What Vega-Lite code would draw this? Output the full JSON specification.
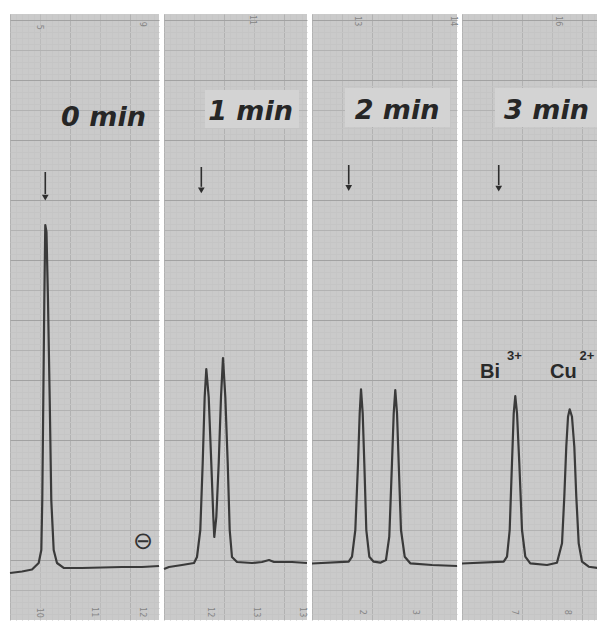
{
  "$schema": "https://vega.github.io/schema/vega-lite/v6.json",
  "padding": {"left": 8, "top": 14, "right": 0, "bottom": 5},
  "background": "white",
  "spacing": 5,
  "bounds": "flush",
  "data": {"values": [
    {"panel":1,"kind":"t","x":0,"y":7.83},{"panel":1,"kind":"t","x":2,"y":8.08},{"panel":1,"kind":"t","x":3.67,"y":8.42},{"panel":1,"kind":"t","x":4.78,"y":9.5},{"panel":1,"kind":"t","x":5.22,"y":11.67},{"panel":1,"kind":"t","x":5.38,"y":20},{"panel":1,"kind":"t","x":5.55,"y":36.67},{"panel":1,"kind":"t","x":5.72,"y":53.33},{"panel":1,"kind":"t","x":5.88,"y":65.83},{"panel":1,"kind":"t","x":6.08,"y":64.67},{"panel":1,"kind":"t","x":6.33,"y":53.33},{"panel":1,"kind":"t","x":6.62,"y":36.67},{"panel":1,"kind":"t","x":6.88,"y":20},{"panel":1,"kind":"t","x":7.28,"y":11.67},{"panel":1,"kind":"t","x":7.83,"y":9.5},{"panel":1,"kind":"t","x":8.95,"y":8.67},{"panel":1,"kind":"t","x":12,"y":8.67},{"panel":1,"kind":"t","x":15.33,"y":8.75},{"panel":1,"kind":"t","x":18.67,"y":8.83},{"panel":1,"kind":"t","x":22,"y":8.83},{"panel":1,"kind":"t","x":24.83,"y":9},
    {"panel":2,"kind":"t","x":0,"y":8.5},{"panel":2,"kind":"t","x":0.83,"y":8.83},{"panel":2,"kind":"t","x":3,"y":9.17},{"panel":2,"kind":"t","x":5,"y":9.5},{"panel":2,"kind":"t","x":5.5,"y":10.5},{"panel":2,"kind":"t","x":6.05,"y":15},{"panel":2,"kind":"t","x":6.45,"y":26.17},{"panel":2,"kind":"t","x":6.78,"y":37.17},{"panel":2,"kind":"t","x":7.05,"y":41.83},{"panel":2,"kind":"t","x":7.45,"y":37.17},{"panel":2,"kind":"t","x":7.88,"y":26.17},{"panel":2,"kind":"t","x":8.22,"y":17.17},{"panel":2,"kind":"t","x":8.38,"y":13.83},{"panel":2,"kind":"t","x":8.72,"y":17.17},{"panel":2,"kind":"t","x":9.12,"y":26.17},{"panel":2,"kind":"t","x":9.5,"y":37.17},{"panel":2,"kind":"t","x":9.83,"y":43.67},{"panel":2,"kind":"t","x":10.22,"y":37.17},{"panel":2,"kind":"t","x":10.62,"y":26.17},{"panel":2,"kind":"t","x":10.95,"y":15},{"panel":2,"kind":"t","x":11.33,"y":10.5},{"panel":2,"kind":"t","x":12.17,"y":9.67},{"panel":2,"kind":"t","x":14.67,"y":9.5},{"panel":2,"kind":"t","x":16.33,"y":9.67},{"panel":2,"kind":"t","x":17.5,"y":10},{"panel":2,"kind":"t","x":18.33,"y":9.67},{"panel":2,"kind":"t","x":21.33,"y":9.67},{"panel":2,"kind":"t","x":23.83,"y":9.5},
    {"panel":3,"kind":"t","x":0,"y":9.42},{"panel":3,"kind":"t","x":6.12,"y":9.72},{"panel":3,"kind":"t","x":6.67,"y":10.55},{"panel":3,"kind":"t","x":7.22,"y":15},{"panel":3,"kind":"t","x":7.67,"y":26.12},{"panel":3,"kind":"t","x":7.95,"y":34.45},{"panel":3,"kind":"t","x":8.17,"y":38.45},{"panel":3,"kind":"t","x":8.45,"y":34.45},{"panel":3,"kind":"t","x":8.72,"y":26.12},{"panel":3,"kind":"t","x":9.05,"y":15},{"panel":3,"kind":"t","x":9.55,"y":10.55},{"panel":3,"kind":"t","x":10.28,"y":9.72},{"panel":3,"kind":"t","x":11.38,"y":9.55},{"panel":3,"kind":"t","x":12.33,"y":10},{"panel":3,"kind":"t","x":12.88,"y":13.88},{"panel":3,"kind":"t","x":13.33,"y":26.12},{"panel":3,"kind":"t","x":13.62,"y":34.45},{"panel":3,"kind":"t","x":13.88,"y":38.33},{"panel":3,"kind":"t","x":14.17,"y":34.45},{"panel":3,"kind":"t","x":14.45,"y":26.12},{"panel":3,"kind":"t","x":14.83,"y":15},{"panel":3,"kind":"t","x":15.45,"y":10.55},{"panel":3,"kind":"t","x":16.38,"y":9.45},{"panel":3,"kind":"t","x":20,"y":9.17},{"panel":3,"kind":"t","x":24.17,"y":9},
    {"panel":4,"kind":"t","x":0,"y":9.42},{"panel":4,"kind":"t","x":6.95,"y":9.72},{"panel":4,"kind":"t","x":7.5,"y":10.55},{"panel":4,"kind":"t","x":7.95,"y":15},{"panel":4,"kind":"t","x":8.33,"y":26.12},{"panel":4,"kind":"t","x":8.62,"y":34.45},{"panel":4,"kind":"t","x":8.88,"y":37.33},{"panel":4,"kind":"t","x":9.17,"y":34.45},{"panel":4,"kind":"t","x":9.55,"y":26.12},{"panel":4,"kind":"t","x":10,"y":15},{"panel":4,"kind":"t","x":10.55,"y":10.55},{"panel":4,"kind":"t","x":11.38,"y":9.45},{"panel":4,"kind":"t","x":14.17,"y":9.17},{"panel":4,"kind":"t","x":15.83,"y":9.55},{"panel":4,"kind":"t","x":16.67,"y":12.78},{"panel":4,"kind":"t","x":17.05,"y":20.55},{"panel":4,"kind":"t","x":17.38,"y":28.88},{"panel":4,"kind":"t","x":17.67,"y":33.88},{"panel":4,"kind":"t","x":17.95,"y":35.12},{"panel":4,"kind":"t","x":18.33,"y":33.88},{"panel":4,"kind":"t","x":18.72,"y":28.88},{"panel":4,"kind":"t","x":19.05,"y":20.55},{"panel":4,"kind":"t","x":19.45,"y":12.78},{"panel":4,"kind":"t","x":20,"y":9.72},{"panel":4,"kind":"t","x":21.12,"y":8.88},{"panel":4,"kind":"t","x":22.83,"y":8.62},
    {"panel":2,"kind":"box","x":6.83,"x2":22.5,"y":82,"y2":88.33},
    {"panel":3,"kind":"box","x":5.5,"x2":23,"y":82.17,"y2":88.67},
    {"panel":4,"kind":"box","x":5.5,"x2":22.83,"y":82.17,"y2":88.67},
    {"panel":1,"kind":"title","x":15.58,"y":82.33,"label":"0 min"},
    {"panel":2,"kind":"title","x":14.42,"y":83.33,"label":"1 min"},
    {"panel":3,"kind":"title","x":14.17,"y":83.45,"label":"2 min"},
    {"panel":4,"kind":"title","x":14.08,"y":83.45,"label":"3 min"},
    {"panel":1,"kind":"arrow","x":5.88,"y":74.67,"y2":71},
    {"panel":2,"kind":"arrow","x":6.22,"y":75.5,"y2":72.2},
    {"panel":3,"kind":"arrow","x":6.12,"y":75.83,"y2":72.6},
    {"panel":4,"kind":"arrow","x":6.12,"y":75.83,"y2":72.5},
    {"panel":1,"kind":"head","x":5.88,"y":70.4},
    {"panel":2,"kind":"head","x":6.22,"y":71.6},
    {"panel":3,"kind":"head","x":6.12,"y":72.0},
    {"panel":4,"kind":"head","x":6.12,"y":71.9},
    {"panel":4,"kind":"ion","x":3,"y":40.33,"label":"Bi"},
    {"panel":4,"kind":"ion","x":14.67,"y":40.33,"label":"Cu"},
    {"panel":4,"kind":"sup","x":7.5,"y":43.3,"label":"3+"},
    {"panel":4,"kind":"sup","x":19.6,"y":43.3,"label":"2+"},
    {"panel":1,"kind":"sym","x":22.17,"y":12.92,"label":"⊖"},
    {"panel":1,"kind":"num","x":4.83,"y":98.8,"label":"5"},
    {"panel":1,"kind":"num","x":22,"y":99.3,"label":"9"},
    {"panel":2,"kind":"num","x":14.67,"y":100,"label":"11"},
    {"panel":3,"kind":"num","x":7.5,"y":99.8,"label":"13"},
    {"panel":3,"kind":"num","x":23.5,"y":99.8,"label":"14"},
    {"panel":4,"kind":"num","x":16,"y":99.8,"label":"16"},
    {"panel":1,"kind":"num","x":4.83,"y":1.2,"label":"10"},
    {"panel":1,"kind":"num","x":14,"y":1.3,"label":"11"},
    {"panel":1,"kind":"num","x":22,"y":1.3,"label":"12"},
    {"panel":2,"kind":"num","x":7.67,"y":1.3,"label":"12"},
    {"panel":2,"kind":"num","x":15.33,"y":1.3,"label":"13"},
    {"panel":2,"kind":"num","x":23,"y":1.3,"label":"13"},
    {"panel":3,"kind":"num","x":8.33,"y":1.3,"label":"2"},
    {"panel":3,"kind":"num","x":17.17,"y":1.3,"label":"3"},
    {"panel":4,"kind":"num","x":8.67,"y":1.3,"label":"7"},
    {"panel":4,"kind":"num","x":17.5,"y":1.3,"label":"8"}
  ]},
  "hconcat": [
    {
      "width": 149, "height": 606,
      "transform": [{"filter": "datum.panel == 1"}],
      "encoding": {
        "x": {"field": "x", "type": "quantitative", "scale": {"domain": [0, 24.833], "nice": false, "zero": false},
          "axis": {"values": [0,1,2,3,4,5,6,7,8,9,10,11,12,13,14,15,16,17,18,19,20,21,22,23,24],
            "gridColor": {"condition": [{"test": "datum.value % 10 === 0", "value": "#b2b2b2"}, {"test": "datum.value % 5 === 0", "value": "#bbbbbb"}], "value": "#c6c6c6"}}},
        "y": {"field": "y", "type": "quantitative", "scale": {"domain": [0, 101], "nice": false, "zero": false},
          "axis": {"values": [1,2,3,4,5,6,7,8,9,10,11,12,13,14,15,16,17,18,19,20,21,22,23,24,25,26,27,28,29,30,31,32,33,34,35,36,37,38,39,40,41,42,43,44,45,46,47,48,49,50,51,52,53,54,55,56,57,58,59,60,61,62,63,64,65,66,67,68,69,70,71,72,73,74,75,76,77,78,79,80,81,82,83,84,85,86,87,88,89,90,91,92,93,94,95,96,97,98,99,100],
            "gridColor": {"condition": [{"test": "datum.value % 10 === 0", "value": "#a2a2a2"}, {"test": "datum.value % 5 === 0", "value": "#b2b2b2"}], "value": "#c5c5c5"}}}
      },
      "layer": [
        {"transform": [{"filter": "datum.kind == 'box'"}], "mark": {"type": "rect", "fill": "#d3d3d3"}, "encoding": {"x2": {"field": "x2"}, "y2": {"field": "y2"}}},
        {"transform": [{"filter": "datum.kind == 't'"}], "mark": {"type": "line", "color": "#3a3a3a", "strokeWidth": 2.2, "strokeJoin": "round"}},
        {"transform": [{"filter": "datum.kind == 'arrow'"}], "mark": {"type": "rule", "color": "#2e2e2e", "strokeWidth": 1.6}, "encoding": {"y2": {"field": "y2"}}},
        {"transform": [{"filter": "datum.kind == 'head'"}], "mark": {"type": "point", "shape": "triangle-down", "size": 45, "filled": true, "color": "#2e2e2e", "opacity": 1}},
        {"transform": [{"filter": "datum.kind == 'title'"}], "mark": {"type": "text", "font": "DejaVu Sans", "fontStyle": "italic", "fontWeight": "bold", "fontSize": 27, "align": "center", "baseline": "alphabetic", "color": "#262626"}, "encoding": {"text": {"field": "label"}}},
        {"transform": [{"filter": "datum.kind == 'sym'"}], "mark": {"type": "text", "font": "DejaVu Sans", "fontSize": 24, "align": "center", "baseline": "middle", "color": "#333333"}, "encoding": {"text": {"field": "label"}}},
        {"transform": [{"filter": "datum.kind == 'num'"}], "mark": {"type": "text", "font": "DejaVu Sans", "fontSize": 8, "angle": 90, "align": "center", "baseline": "middle", "color": "#858585"}, "encoding": {"text": {"field": "label"}}}
      ]
    },
    {
      "width": 143, "height": 606,
      "transform": [{"filter": "datum.panel == 2"}],
      "encoding": {
        "x": {"field": "x", "type": "quantitative", "scale": {"domain": [0, 23.833], "nice": false, "zero": false},
          "axis": {"values": [0,1,2,3,4,5,6,7,8,9,10,11,12,13,14,15,16,17,18,19,20,21,22,23],
            "gridColor": {"condition": [{"test": "datum.value % 10 === 0", "value": "#b2b2b2"}, {"test": "datum.value % 5 === 0", "value": "#bbbbbb"}], "value": "#c6c6c6"}}},
        "y": {"field": "y", "type": "quantitative", "scale": {"domain": [0, 101], "nice": false, "zero": false},
          "axis": {"values": [1,2,3,4,5,6,7,8,9,10,11,12,13,14,15,16,17,18,19,20,21,22,23,24,25,26,27,28,29,30,31,32,33,34,35,36,37,38,39,40,41,42,43,44,45,46,47,48,49,50,51,52,53,54,55,56,57,58,59,60,61,62,63,64,65,66,67,68,69,70,71,72,73,74,75,76,77,78,79,80,81,82,83,84,85,86,87,88,89,90,91,92,93,94,95,96,97,98,99,100],
            "gridColor": {"condition": [{"test": "datum.value % 10 === 0", "value": "#a2a2a2"}, {"test": "datum.value % 5 === 0", "value": "#b2b2b2"}], "value": "#c5c5c5"}}}
      },
      "layer": [
        {"transform": [{"filter": "datum.kind == 'box'"}], "mark": {"type": "rect", "fill": "#d3d3d3"}, "encoding": {"x2": {"field": "x2"}, "y2": {"field": "y2"}}},
        {"transform": [{"filter": "datum.kind == 't'"}], "mark": {"type": "line", "color": "#3a3a3a", "strokeWidth": 2.2, "strokeJoin": "round"}},
        {"transform": [{"filter": "datum.kind == 'arrow'"}], "mark": {"type": "rule", "color": "#2e2e2e", "strokeWidth": 1.6}, "encoding": {"y2": {"field": "y2"}}},
        {"transform": [{"filter": "datum.kind == 'head'"}], "mark": {"type": "point", "shape": "triangle-down", "size": 45, "filled": true, "color": "#2e2e2e", "opacity": 1}},
        {"transform": [{"filter": "datum.kind == 'title'"}], "mark": {"type": "text", "font": "DejaVu Sans", "fontStyle": "italic", "fontWeight": "bold", "fontSize": 27, "align": "center", "baseline": "alphabetic", "color": "#262626"}, "encoding": {"text": {"field": "label"}}},
        {"transform": [{"filter": "datum.kind == 'num'"}], "mark": {"type": "text", "font": "DejaVu Sans", "fontSize": 8, "angle": 90, "align": "center", "baseline": "middle", "color": "#858585"}, "encoding": {"text": {"field": "label"}}}
      ]
    },
    {
      "width": 145, "height": 606,
      "transform": [{"filter": "datum.panel == 3"}],
      "encoding": {
        "x": {"field": "x", "type": "quantitative", "scale": {"domain": [0, 24.167], "nice": false, "zero": false},
          "axis": {"values": [0,1,2,3,4,5,6,7,8,9,10,11,12,13,14,15,16,17,18,19,20,21,22,23,24],
            "gridColor": {"condition": [{"test": "datum.value % 10 === 0", "value": "#b2b2b2"}, {"test": "datum.value % 5 === 0", "value": "#bbbbbb"}], "value": "#c6c6c6"}}},
        "y": {"field": "y", "type": "quantitative", "scale": {"domain": [0, 101], "nice": false, "zero": false},
          "axis": {"values": [1,2,3,4,5,6,7,8,9,10,11,12,13,14,15,16,17,18,19,20,21,22,23,24,25,26,27,28,29,30,31,32,33,34,35,36,37,38,39,40,41,42,43,44,45,46,47,48,49,50,51,52,53,54,55,56,57,58,59,60,61,62,63,64,65,66,67,68,69,70,71,72,73,74,75,76,77,78,79,80,81,82,83,84,85,86,87,88,89,90,91,92,93,94,95,96,97,98,99,100],
            "gridColor": {"condition": [{"test": "datum.value % 10 === 0", "value": "#a2a2a2"}, {"test": "datum.value % 5 === 0", "value": "#b2b2b2"}], "value": "#c5c5c5"}}}
      },
      "layer": [
        {"transform": [{"filter": "datum.kind == 'box'"}], "mark": {"type": "rect", "fill": "#d3d3d3"}, "encoding": {"x2": {"field": "x2"}, "y2": {"field": "y2"}}},
        {"transform": [{"filter": "datum.kind == 't'"}], "mark": {"type": "line", "color": "#3a3a3a", "strokeWidth": 2.2, "strokeJoin": "round"}},
        {"transform": [{"filter": "datum.kind == 'arrow'"}], "mark": {"type": "rule", "color": "#2e2e2e", "strokeWidth": 1.6}, "encoding": {"y2": {"field": "y2"}}},
        {"transform": [{"filter": "datum.kind == 'head'"}], "mark": {"type": "point", "shape": "triangle-down", "size": 45, "filled": true, "color": "#2e2e2e", "opacity": 1}},
        {"transform": [{"filter": "datum.kind == 'title'"}], "mark": {"type": "text", "font": "DejaVu Sans", "fontStyle": "italic", "fontWeight": "bold", "fontSize": 27, "align": "center", "baseline": "alphabetic", "color": "#262626"}, "encoding": {"text": {"field": "label"}}},
        {"transform": [{"filter": "datum.kind == 'num'"}], "mark": {"type": "text", "font": "DejaVu Sans", "fontSize": 8, "angle": 90, "align": "center", "baseline": "middle", "color": "#858585"}, "encoding": {"text": {"field": "label"}}}
      ]
    },
    {
      "width": 137, "height": 606,
      "transform": [{"filter": "datum.panel == 4"}],
      "encoding": {
        "x": {"field": "x", "type": "quantitative", "scale": {"domain": [0, 22.833], "nice": false, "zero": false},
          "axis": {"values": [0,1,2,3,4,5,6,7,8,9,10,11,12,13,14,15,16,17,18,19,20,21,22],
            "gridColor": {"condition": [{"test": "datum.value % 10 === 0", "value": "#b2b2b2"}, {"test": "datum.value % 5 === 0", "value": "#bbbbbb"}], "value": "#c6c6c6"}}},
        "y": {"field": "y", "type": "quantitative", "scale": {"domain": [0, 101], "nice": false, "zero": false},
          "axis": {"values": [1,2,3,4,5,6,7,8,9,10,11,12,13,14,15,16,17,18,19,20,21,22,23,24,25,26,27,28,29,30,31,32,33,34,35,36,37,38,39,40,41,42,43,44,45,46,47,48,49,50,51,52,53,54,55,56,57,58,59,60,61,62,63,64,65,66,67,68,69,70,71,72,73,74,75,76,77,78,79,80,81,82,83,84,85,86,87,88,89,90,91,92,93,94,95,96,97,98,99,100],
            "gridColor": {"condition": [{"test": "datum.value % 10 === 0", "value": "#a2a2a2"}, {"test": "datum.value % 5 === 0", "value": "#b2b2b2"}], "value": "#c5c5c5"}}}
      },
      "layer": [
        {"transform": [{"filter": "datum.kind == 'box'"}], "mark": {"type": "rect", "fill": "#d3d3d3"}, "encoding": {"x2": {"field": "x2"}, "y2": {"field": "y2"}}},
        {"transform": [{"filter": "datum.kind == 't'"}], "mark": {"type": "line", "color": "#3a3a3a", "strokeWidth": 2.2, "strokeJoin": "round"}},
        {"transform": [{"filter": "datum.kind == 'arrow'"}], "mark": {"type": "rule", "color": "#2e2e2e", "strokeWidth": 1.6}, "encoding": {"y2": {"field": "y2"}}},
        {"transform": [{"filter": "datum.kind == 'head'"}], "mark": {"type": "point", "shape": "triangle-down", "size": 45, "filled": true, "color": "#2e2e2e", "opacity": 1}},
        {"transform": [{"filter": "datum.kind == 'title'"}], "mark": {"type": "text", "font": "DejaVu Sans", "fontStyle": "italic", "fontWeight": "bold", "fontSize": 27, "align": "center", "baseline": "alphabetic", "color": "#262626"}, "encoding": {"text": {"field": "label"}}},
        {"transform": [{"filter": "datum.kind == 'ion'"}], "mark": {"type": "text", "font": "Liberation Sans", "fontWeight": "bold", "fontSize": 20, "align": "left", "baseline": "alphabetic", "color": "#2a2a2a"}, "encoding": {"text": {"field": "label"}}},
        {"transform": [{"filter": "datum.kind == 'sup'"}], "mark": {"type": "text", "font": "Liberation Sans", "fontWeight": "bold", "fontSize": 13, "align": "left", "baseline": "alphabetic", "color": "#2a2a2a"}, "encoding": {"text": {"field": "label"}}},
        {"transform": [{"filter": "datum.kind == 'num'"}], "mark": {"type": "text", "font": "DejaVu Sans", "fontSize": 8, "angle": 90, "align": "center", "baseline": "middle", "color": "#858585"}, "encoding": {"text": {"field": "label"}}}
      ]
    }
  ],
  "config": {
    "view": {"stroke": null, "fill": "#cacaca"},
    "axis": {"grid": true, "labels": false, "ticks": false, "domain": false, "title": null, "gridWidth": 1, "gridOpacity": 1}
  }
}
